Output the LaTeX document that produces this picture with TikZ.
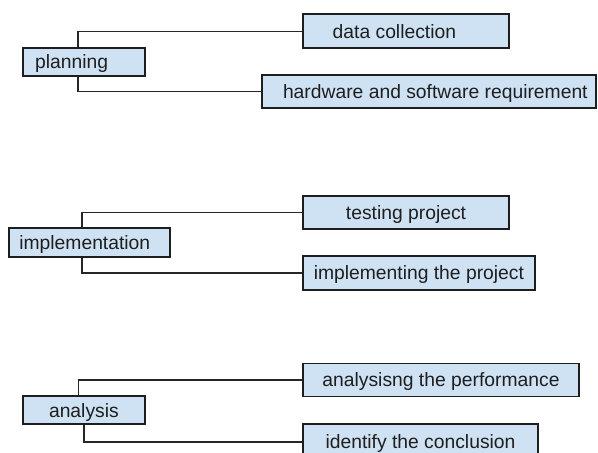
\documentclass[tikz,border=0pt]{standalone}
\usepackage{fontspec}
\setmainfont{Liberation Sans}
\definecolor{boxfill}{HTML}{CFE2F3}
\definecolor{boxline}{HTML}{1E1E1E}
\definecolor{conline}{HTML}{262626}
\definecolor{txt}{HTML}{1E1E1E}
\begin{document}
\begin{tikzpicture}[x=1pt,y=-1pt,
  box/.style={draw=boxline, fill=boxfill, line width=1.9pt, inner sep=0pt,
    text=txt, font=\fontsize{19.3}{22}\selectfont, text height=13.8pt, text depth=0pt},
  conn/.style={draw=conline, line width=1.6pt}]
\useasboundingbox (0,0) rectangle (598,453);
% planning group
\node[box, minimum height=28.3pt] (plan) at (83.9,61.9) {\makebox[122.3pt][l]{\hspace*{12.3pt}planning}};
\node[box, minimum height=34pt] (data) at (405.7,31.3) {\makebox[206pt][l]{\hspace*{30pt}data collection}};
\node[box, minimum height=33pt] (hw) at (429,91.5) {\makebox[334pt][l]{\hspace*{21pt}hardware and software requirement}};
% implementation group
\node[box, minimum height=28.4pt] (impl) at (89.7,242.5) {\makebox[160.7pt][l]{\hspace*{10pt}implementation}};
\node[box, minimum height=33pt] (test) at (406,212.5) {\makebox[206.6pt][c]{testing project}};
\node[box, minimum height=34.3pt] (implp) at (418.9,272.9) {\makebox[232.3pt][c]{implementing the project}};
% analysis group
\node[box, minimum height=28.3pt] (anal) at (83.9,410.2) {\makebox[122.3pt][c]{analysis}};
\node[box, minimum height=33pt] (perf) at (441,380) {\makebox[276.6pt][c]{analysisng the performance}};
\node[box, minimum height=36pt] (concl) at (420.5,442) {\makebox[235.6pt][c]{identify the conclusion}};
% connectors
\draw[conn] ([xshift=56.3pt]plan.north west) |- (data.west);
\draw[conn] ([xshift=56.3pt]plan.south west) |- (hw.west);
\draw[conn] ([xshift=73.4pt]impl.north west) |- (test.west);
\draw[conn] ([xshift=73.4pt]impl.south west) |- (implp.west);
\draw[conn] ([xshift=56.6pt]anal.north west) |- (perf.west);
\draw[conn] ([xshift=62.3pt]anal.south west) |- (concl.west);
\end{tikzpicture}
\end{document}
